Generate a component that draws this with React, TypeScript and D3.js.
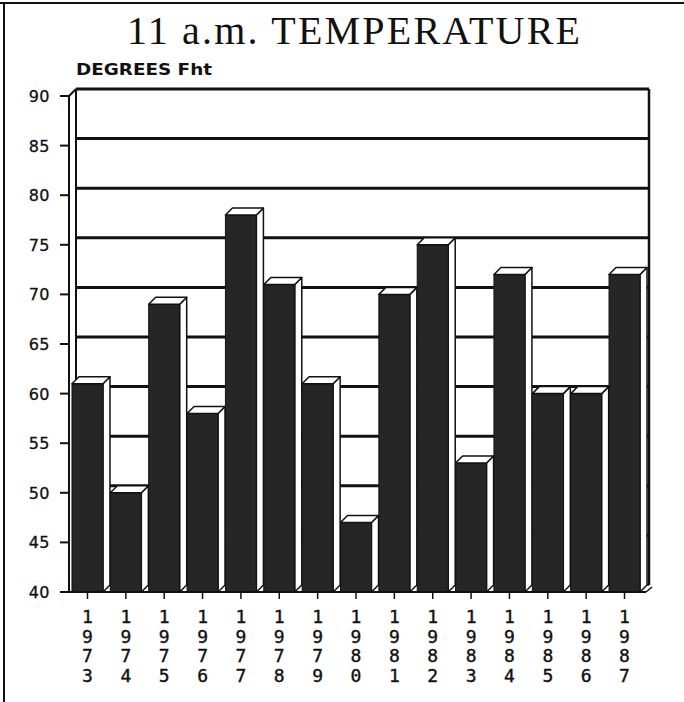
import React from "react";
import * as d3 from "d3";

const years = ["1973","1974","1975","1976","1977","1978","1979","1980","1981","1982","1983","1984","1985","1986","1987"];
const temps = [61, 50, 69, 58, 78, 71, 61, 47, 70, 75, 53, 72, 60, 60, 72];
const yTicks = [40, 45, 50, 55, 60, 65, 70, 75, 80, 85, 90];
const gridValues = [45, 50, 55, 60, 65, 70, 75, 80, 85, 90];

const W = 684, H = 702;
const DX = 7, DY = -7;

export default function App() {
  const y = d3.scaleLinear().domain([40, 90]).range([592, 96]);
  const x = d3.scaleBand<string>().domain(years).range([68.3, 643.7]).paddingInner(0.192).paddingOuter(0.096);
  const axisX = 69;
  const base = y(40);
  const top = y(90);
  const backRight = 649;
  const bw = x.bandwidth();
  const ink = "#111";
  const barFill = "#262626";

  return (
    <svg width={W} height={H} style={{ position: "absolute", left: 0, top: 0, background: "#fff" }}>
      {/* frame */}
      <line x1={0} y1={3} x2={W} y2={3} stroke={ink} strokeWidth={2} />
      <line x1={4} y1={3} x2={4} y2={H} stroke={ink} strokeWidth={2} />

      <text x={127} y={44} fontFamily="Liberation Serif, Times New Roman, serif" fontSize={40} textLength={453} lengthAdjust="spacing" fill={ink}>11 a.m. TEMPERATURE</text>
      <text x={76} y={75} fontFamily="DejaVu Sans, Arial, sans-serif" fontSize={15} fontWeight="bold" textLength={136} lengthAdjust="spacingAndGlyphs" fill={ink}>DEGREES Fht</text>

      {/* back wall */}
      <line x1={axisX + DX} y1={top + DY} x2={axisX + DX} y2={base + DY} stroke={ink} strokeWidth={2} />
      <line x1={backRight} y1={top + DY} x2={backRight} y2={base + DY} stroke={ink} strokeWidth={2.5} />
      {gridValues.map(v => (
        <line key={v} x1={axisX + DX} y1={y(v) + DY} x2={backRight} y2={y(v) + DY} stroke={ink} strokeWidth={3} />
      ))}
      <line x1={axisX} y1={top} x2={axisX + DX} y2={top + DY} stroke={ink} strokeWidth={2} />
      <line x1={axisX + DX} y1={base + DY} x2={backRight} y2={base + DY} stroke={ink} strokeWidth={1.5} />

      {/* bars */}
      {years.map((yr, i) => {
        const x0 = x(yr)!;
        const yt = y(temps[i]);
        const side = `${x0 + bw},${yt} ${x0 + bw + DX},${yt + DY} ${x0 + bw + DX},${base + DY} ${x0 + bw},${base}`;
        const topFace = `${x0},${yt} ${x0 + DX},${yt + DY} ${x0 + bw + DX},${yt + DY} ${x0 + bw},${yt}`;
        return (
          <g key={yr}>
            <polygon points={side} fill="#fff" stroke={ink} strokeWidth={1.5} strokeLinejoin="round" />
            <rect x={x0} y={yt} width={bw} height={base - yt} fill={barFill} stroke={ink} strokeWidth={1} />
            <polygon points={topFace} fill="#fff" stroke={ink} strokeWidth={1.5} strokeLinejoin="round" />
          </g>
        );
      })}

      {/* front axes */}
      <line x1={axisX} y1={top} x2={axisX} y2={base} stroke={ink} strokeWidth={2} />
      <line x1={61} y1={base} x2={backRight - DX + 4} y2={base} stroke={ink} strokeWidth={2} />
      <line x1={backRight - DX + 4} y1={base} x2={backRight + 3} y2={base + DY + 2} stroke={ink} strokeWidth={1.5} />
      {yTicks.map(v => (
        <g key={v}>
          <line x1={60} y1={y(v)} x2={axisX} y2={y(v)} stroke={ink} strokeWidth={2} />
          <text x={50} y={y(v) + 6} textAnchor="end" fontFamily="DejaVu Sans, Arial, sans-serif" fontSize={16} letterSpacing={0.5} fill={ink} stroke={ink} strokeWidth={0.3}>{v}</text>
        </g>
      ))}
      {years.map(yr => {
        const cx = x(yr)! + bw / 2;
        return (
          <g key={yr}>
            <line x1={cx} y1={base} x2={cx} y2={base + 7} stroke={ink} strokeWidth={1.5} />
            {yr.split("").map((ch, j) => (
              <text key={j} x={cx} y={623 + j * 19.7} textAnchor="middle" fontFamily="DejaVu Sans Mono, Liberation Mono, monospace" fontSize={18} fill={ink} stroke={ink} strokeWidth={0.4}>{ch}</text>
            ))}
          </g>
        );
      })}
    </svg>
  );
}
